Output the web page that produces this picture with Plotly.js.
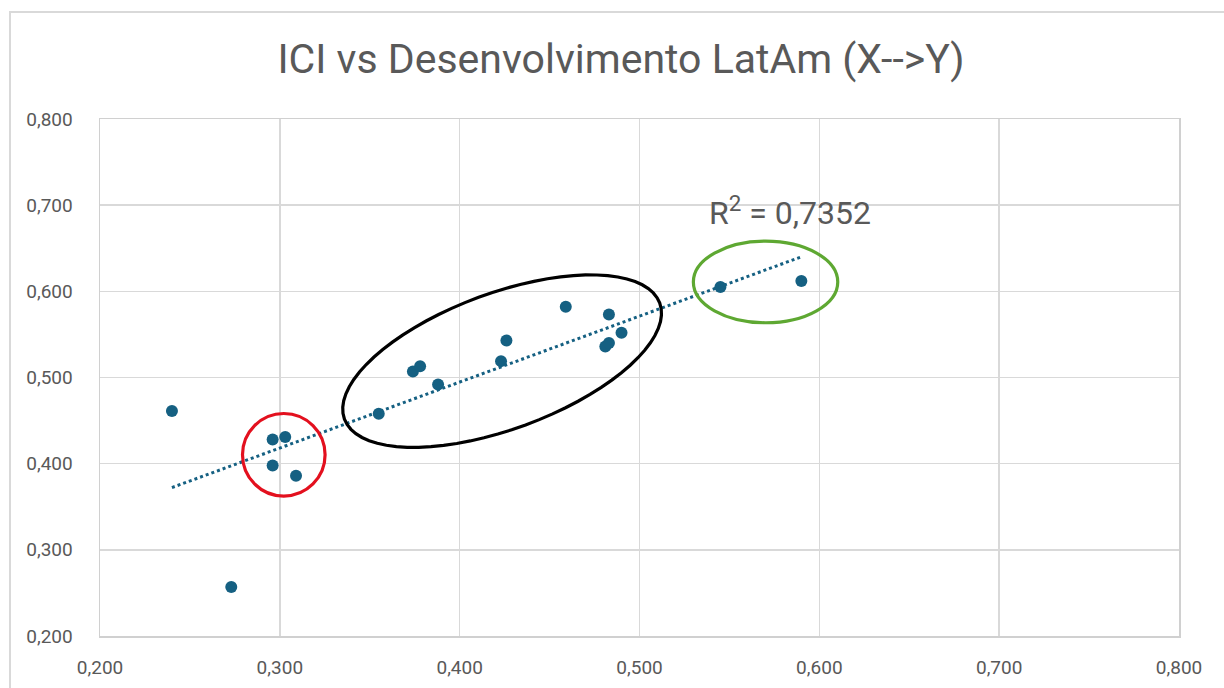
<!DOCTYPE html>
<html>
<head>
<meta charset="utf-8">
<script src="https://cdn.plot.ly/plotly-3.0.1.min.js"></script>
<style>html,body{margin:0;padding:0;background:#fff;}</style>
</head>
<body>
<div id="chart" style="width:1224px;height:688px;"></div>
<script>
// ICI (X) vs Desenvolvimento (Y), LatAm
const ICI = [0.240, 0.273, 0.296, 0.303, 0.296, 0.309, 0.355, 0.374, 0.378, 0.388, 0.423, 0.426, 0.459, 0.483, 0.481, 0.483, 0.490, 0.545, 0.590];
const DESENV = [0.461, 0.257, 0.428, 0.431, 0.398, 0.386, 0.458, 0.507, 0.513, 0.492, 0.519, 0.543, 0.582, 0.573, 0.536, 0.540, 0.552, 0.605, 0.612];
const TITLE = 'ICI vs Desenvolvimento LatAm (X-->Y)';
const R2_LABEL = 'R<sup>2</sup> = 0,7352';
const X_RANGE = [0.2, 0.8];
const Y_RANGE = [0.2, 0.8];

// linear regression trendline (computed from data)
const n = ICI.length;
const mx = ICI.reduce((a, b) => a + b, 0) / n;
const my = DESENV.reduce((a, b) => a + b, 0) / n;
let sxy = 0, sxx = 0;
for (let i = 0; i < n; i++) { sxy += (ICI[i] - mx) * (DESENV[i] - my); sxx += (ICI[i] - mx) ** 2; }
const slope = sxy / sxx, icpt = my - slope * mx;
const xmin = Math.min(...ICI), xmax = Math.max(...ICI);
const trendX = [xmin, xmax];
const trendY = trendX.map(v => icpt + slope * v);

const M = {l: 100, r: 45, t: 119, b: 52};
const W = 1224, H = 688;
const plotW = W - M.l - M.r, plotH = H - M.t - M.b;
const dxPerPx = (X_RANGE[1] - X_RANGE[0]) / plotW;
const dyPerPx = (Y_RANGE[1] - Y_RANGE[0]) / plotH;

// rotated ellipse annotation (black), built in screen-pixel units then mapped to data
function ellipsePath(cx, cy, aPx, bPx, thetaDeg) {
  const th = thetaDeg * Math.PI / 180;
  let p = '';
  const N = 72;
  for (let k = 0; k <= N; k++) {
    const t = 2 * Math.PI * k / N;
    const px = aPx * Math.cos(t) * Math.cos(th) - bPx * Math.sin(t) * Math.sin(th);
    const py = aPx * Math.cos(t) * Math.sin(th) + bPx * Math.sin(t) * Math.cos(th);
    const x = cx + px * dxPerPx, y = cy - py * dyPerPx;
    p += (k === 0 ? 'M' : 'L') + x.toFixed(5) + ',' + y.toFixed(5);
  }
  return p + 'Z';
}

const FONT = 'Roboto, "Liberation Sans", Arial, sans-serif';

const traces = [
  {
    x: ICI, y: DESENV, type: 'scatter', mode: 'markers',
    marker: {color: '#156082', size: 12},
    hoverinfo: 'x+y', showlegend: false
  },
  {
    x: trendX, y: trendY, type: 'scatter', mode: 'lines',
    line: {color: '#156082', width: 3, dash: 'dot'},
    hoverinfo: 'skip', showlegend: false
  }
];

const axisCommon = {
  range: X_RANGE, dtick: 0.1, tick0: 0.2, tickformat: '.3f',
  showgrid: true, gridcolor: '#d9d9d9', gridwidth: 1.5,
  showline: true, linecolor: '#d0d0d0', linewidth: 1.5, mirror: true,
  zeroline: false, ticks: '', fixedrange: true,
  tickfont: {family: FONT, size: 19, color: '#595959'}
};

const layout = {
  width: W, height: H,
  margin: M,
  paper_bgcolor: '#ffffff', plot_bgcolor: '#ffffff',
  separators: ',.',
  showlegend: false,
  title: {
    text: TITLE, xref: 'container', yref: 'container',
    x: 621 / 1224, xanchor: 'center', y: 1 - 59 / 688, yanchor: 'middle',
    font: {family: FONT, size: 41, color: '#595959'}
  },
  xaxis: Object.assign({}, axisCommon, {range: X_RANGE, ticklabelstandoff: 14}),
  yaxis: Object.assign({}, axisCommon, {range: Y_RANGE, ticklabelstandoff: 22}),
  shapes: [
    {type: 'rect', xref: 'paper', yref: 'paper',
     x0: (10 - M.l) / plotW, x1: (1240 - M.l) / plotW,
     y0: (M.t + plotH - 700) / plotH, y1: (M.t + plotH - 12) / plotH,
     line: {color: '#d9d9d9', width: 2}, fillcolor: 'rgba(0,0,0,0)', layer: 'below'},
    {type: 'circle', xref: 'x', yref: 'y',
     x0: 0.3022 - 41.3 * dxPerPx, x1: 0.3022 + 41.3 * dxPerPx,
     y0: 0.4103 - 41.3 * dyPerPx, y1: 0.4103 + 41.3 * dyPerPx,
     line: {color: '#e3101e', width: 3.2}},
    {type: 'circle', xref: 'x', yref: 'y',
     x0: 0.5701 - 72.2 * dxPerPx, x1: 0.5701 + 72.2 * dxPerPx,
     y0: 0.6109 - 40.8 * dyPerPx, y1: 0.6109 + 40.8 * dyPerPx,
     line: {color: '#5ea832', width: 3.2}},
    {type: 'path', xref: 'x', yref: 'y',
     path: ellipsePath(0.4236, 0.519, 168, 68, -20.2),
     line: {color: '#000000', width: 3.2}}
  ],
  annotations: [
    {text: R2_LABEL, xref: 'x', yref: 'y', x: 0.5375, y: 0.6935,
     xanchor: 'left', yanchor: 'middle', showarrow: false,
     font: {family: FONT, size: 32, color: '#595959'}}
  ]
};

Plotly.newPlot('chart', traces, layout, {displayModeBar: false, staticPlot: true});
</script>
</body>
</html>
